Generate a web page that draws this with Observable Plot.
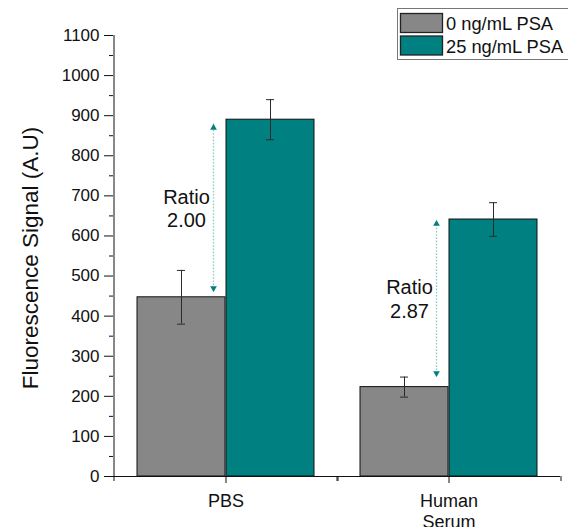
<!DOCTYPE html>
<html><head><meta charset="utf-8">
<script src="https://cdn.jsdelivr.net/npm/d3@7"></script>
<script src="https://cdn.jsdelivr.net/npm/@observablehq/plot@0.6"></script>
<style>
html,body{margin:0;padding:0;background:#fff;overflow:hidden}
</style></head><body><div id="chart"></div>
<script>
const categories = ["PBS", "Human Serum"];
const series = ["0 ng/mL PSA", "25 ng/mL PSA"];
const values0 = [447, 223];
const errors0 = [67, 25];
const values25 = [890, 641];
const errors25 = [50, 42];
const ratioLabels = ["2.00", "2.87"];
const arrowLow = [460, 248];
const arrowHigh = [880, 640];
const yTicks = [0, 100, 200, 300, 400, 500, 600, 700, 800, 900, 1000, 1100];
const yMinorTicks = [50, 150, 250, 350, 450, 550, 650, 750, 850, 950, 1050];
const colors = ["#878787", "#008080"];
const yLabel = "Fluorescence Signal (A.U)";

const rows = categories.flatMap((c, i) => [
  {cat: c, series: series[0], value: values0[i], err: errors0[i]},
  {cat: c, series: series[1], value: values25[i], err: errors25[i]}
]);
const annots = categories.map((c, i) => ({cat: c, lo: arrowLow[i], hi: arrowHigh[i], label: "Ratio\n" + ratioLabels[i]}));
const g0 = rows.filter(d => d.series === series[0]);
const g1 = rows.filter(d => d.series === series[1]);

const font = "'Liberation Sans', Arial, sans-serif";
const ink = "#111";
const errInk = "#2a2a2a";
const hi = d => d.value + d.err, lo = d => d.value - d.err;

const plot = Plot.plot({
  width: 568, height: 527,
  marginLeft: 113, marginRight: 8, marginTop: 35, marginBottom: 51,
  style: {fontFamily: font, background: "white", color: ink},
  x: {domain: categories, padding: 0, label: null},
  y: {domain: [0, 1100], label: null},
  color: {domain: series, range: colors},
  marks: [
    Plot.barY(g0, {x: "cat", y: "value", fill: "series", stroke: ink, strokeWidth: 1, insetLeft: 23, insetRight: 112}),
    Plot.barY(g1, {x: "cat", y: "value", fill: "series", stroke: ink, strokeWidth: 1, insetLeft: 112, insetRight: 23}),
    Plot.ruleX(g0, {x: "cat", y1: lo, y2: hi, dx: -44.5, stroke: errInk, strokeWidth: 1}),
    Plot.ruleX(g1, {x: "cat", y1: lo, y2: hi, dx: 44.5, stroke: errInk, strokeWidth: 1}),
    Plot.tickY(g0, {x: "cat", y: hi, insetLeft: 63, insetRight: 152, stroke: errInk}),
    Plot.tickY(g0, {x: "cat", y: lo, insetLeft: 63, insetRight: 152, stroke: errInk}),
    Plot.tickY(g1, {x: "cat", y: hi, insetLeft: 152, insetRight: 63, stroke: errInk}),
    Plot.tickY(g1, {x: "cat", y: lo, insetLeft: 152, insetRight: 63, stroke: errInk}),
    Plot.ruleX(annots, {x: "cat", y1: "lo", y2: "hi", dx: -12.5, stroke: "#8ccaca", strokeWidth: 1.3, strokeDasharray: "1.6,1.6"}),
    Plot.dot(annots, {x: "cat", y: "hi", dx: -12.5, dy: 4, symbol: "triangle", r: 2.5, fill: "#008080", stroke: null}),
    Plot.dot(annots, {x: "cat", y: "lo", dx: -12.5, dy: -4, symbol: "triangle", rotate: 180, r: 2.5, fill: "#008080", stroke: null}),
    Plot.text(annots, {x: "cat", y: d => (d.lo + d.hi) / 2, text: "label", dx: -39.5, fontSize: 20, lineHeight: 1.17, fill: ink}),
    Plot.ruleY([0], {stroke: ink}),
    Plot.ruleX([categories[0]], {y1: 0, y2: 1100, dx: -112, stroke: ink}),
    Plot.axisY({ticks: yTicks, tickFormat: d3.format("d"), tickSize: 9, tickPadding: 5, fontSize: 17, label: null, stroke: ink}),
    Plot.axisY({ticks: yMinorTicks, tickSize: 4, text: null, label: null, stroke: ink}),
    Plot.axisX({tickSize: 7, tickPadding: 8, fontSize: 18, lineHeight: 1.2, tickFormat: d => d.replace(" ", "\n"), label: null, stroke: ink}),
    Plot.axisX({tickSize: 5, text: null, dx: -112, label: null, stroke: ink}),
    Plot.axisX({tickSize: 5, text: null, dx: 112, label: null, stroke: ink}),
    Plot.text([yLabel], {frameAnchor: "left", textAnchor: "middle", rotate: -90, dx: -83, dy: 2, fontSize: 22.5, fill: ink})
  ]
});

// legend built from the color scale
const color = plot.scale("color");
const svg = d3.select(plot);
const lg = svg.append("g").attr("font-family", font).attr("font-size", 18.3).attr("text-anchor", "start");
lg.append("rect").attr("x", 397.5).attr("y", 8.5).attr("width", 190).attr("height", 51)
  .attr("fill", "white").attr("stroke", "#777");
series.forEach((s, i) => {
  lg.append("rect").attr("x", 400.5).attr("y", 13.5 + i * 22.5).attr("width", 42).attr("height", 19)
    .attr("fill", color.apply(s)).attr("stroke", "#222").attr("stroke-width", 1.3);
  lg.append("text").attr("x", 446).attr("y", 30 + i * 22.5).attr("fill", ink).text(s);
});

document.getElementById("chart").appendChild(plot);
</script>
</body></html>
